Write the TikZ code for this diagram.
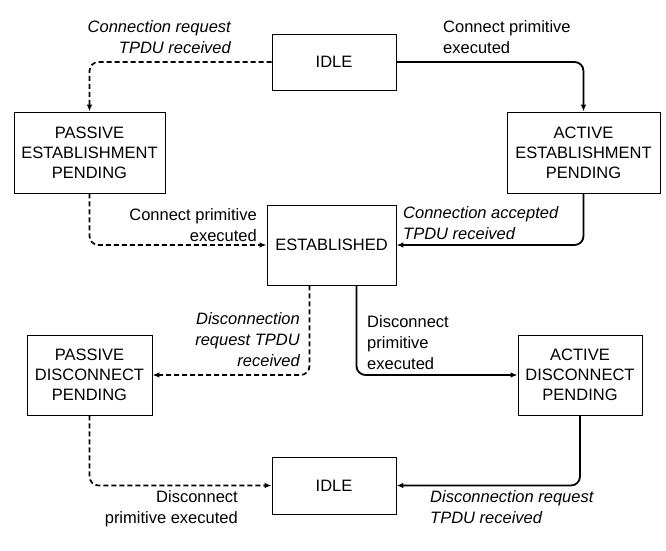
\documentclass[tikz,border=0pt]{standalone}
\usepackage{fontspec}
\setmainfont{Liberation Sans}
\usetikzlibrary{arrows.meta,positioning}

\begin{document}
\begin{tikzpicture}[
    x=1pt, y=-1pt,
    >={Latex[length=7pt,width=5.5pt]},
    state/.style={draw, line width=0.9pt, minimum width=124pt, minimum height=56pt, align=center, inner sep=2pt, font=\fontsize{16.5}{20}\selectfont},
    note/.style={inner sep=0pt, font=\fontsize{16.5}{21}\selectfont},
    event/.style={note, font=\fontsize{16.5}{21}\selectfont\itshape},
    flow/.style={->, line width=1.8pt, rounded corners=9pt},
    recv/.style={flow, line width=1.7pt, dash pattern=on 5pt off 3pt}
]
\useasboundingbox (0,0) rectangle (666,550);

\node[state] (idle) at (334,62) {IDLE};
\node[state, minimum width=151pt, minimum height=81pt] (pest) at (89.5,152.5) {PASSIVE\\ESTABLISHMENT\\PENDING};
\node[state, minimum width=153pt, minimum height=81pt] (aest) at (583.5,152.5) {ACTIVE\\ESTABLISHMENT\\PENDING};
\node[state, minimum width=129pt, minimum height=80pt] (est) at (331.5,245) {ESTABLISHED};
\node[state, minimum width=125pt, minimum height=80pt] (pdis) at (89.5,375) {PASSIVE\\DISCONNECT\\PENDING};
\node[state, minimum width=124pt, minimum height=80pt] (adis) at (580,375) {ACTIVE\\DISCONNECT\\PENDING};
\node[state, minimum height=57pt] (idleb) at (334,485.5) {IDLE};

\draw[recv] (idle.west) -| (pest.north);
\draw[flow] (idle.east) -| (aest.north);
\draw[recv] (pest.south) |- (est.west);
\draw[flow] (aest.south) |- (est.east);
\draw[recv] ([xshift=-22pt]est.south) |- (pdis.east);
\draw[flow] ([xshift=25pt]est.south) |- (adis.west);
\draw[recv] (pdis.south) |- (idleb.west);
\draw[flow] (adis.south) |- (idleb.east);

\node[event, align=right, anchor=east] at (231,37.5) {Connection request\\TPDU received};
\node[note, align=left, anchor=west] at (443,37.5) {Connect primitive\\executed};
\node[note, align=right, anchor=east] at (257,225.5) {Connect primitive\\executed};
\node[event, align=left, anchor=west] at (403,223) {Connection accepted\\TPDU received};
\node[event, align=right, anchor=east] at (300,340) {Disconnection\\request TPDU\\received};
\node[note, align=left, anchor=west] at (367,343) {Disconnect\\primitive\\executed};
\node[note, align=right, anchor=east] at (238,509) {Disconnect\\primitive executed};
\node[event, align=left, anchor=west] at (430,507.5) {Disconnection request\\TPDU received};
\end{tikzpicture}
\end{document}
